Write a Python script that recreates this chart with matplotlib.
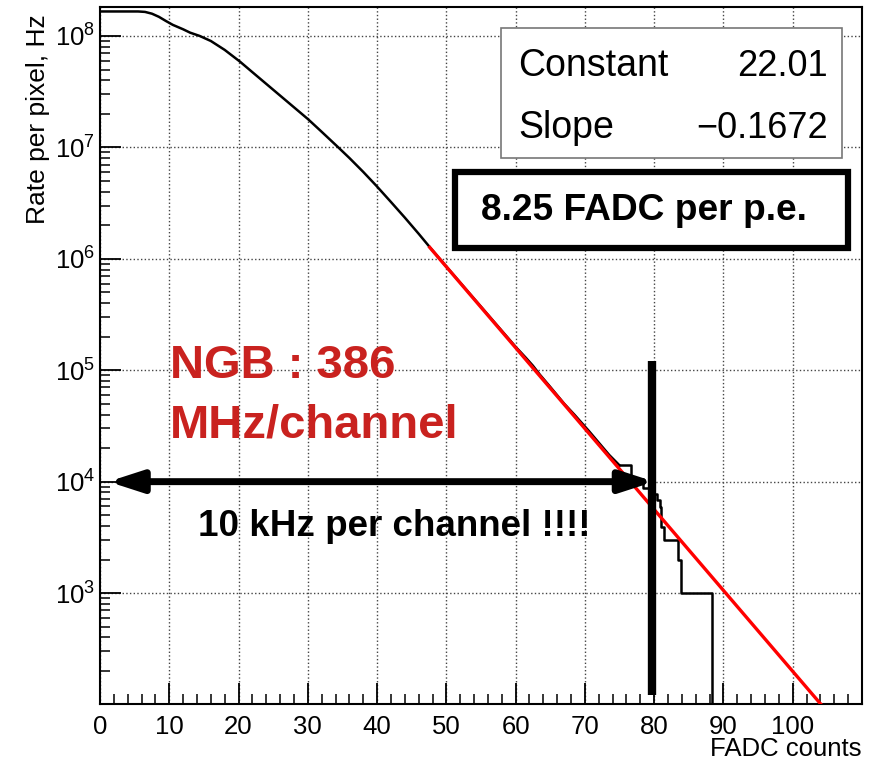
import numpy as np
import matplotlib
matplotlib.use("Agg")
import matplotlib.pyplot as plt
from matplotlib.patches import Rectangle
from matplotlib.ticker import LogLocator, MultipleLocator, NullFormatter

plt.rcParams.update({"font.family": ["Liberation Sans", "DejaVu Sans"], "font.size": 18,
                     "axes.linewidth": 1.5})

# rate curve (FADC counts, log10 rate in Hz)
curve_x = [0, 5.5, 6.5, 7.5, 8.5, 9.5, 10.5, 12, 13, 14.4, 16, 18, 20.2, 22, 24, 26, 28, 30, 32, 34.4,
           36, 38, 39.9, 42, 44, 46, 47.6, 50, 55, 60, 61.5, 62.5, 63.5, 65, 67, 68.5, 69.5, 70.5, 72,
           73.5, 75.0]
curve_log = [8.22, 8.22, 8.216, 8.200, 8.172, 8.135, 8.10, 8.06, 8.03, 8.00, 7.955, 7.875, 7.77, 7.675,
             7.57, 7.465, 7.36, 7.255, 7.14, 7.00, 6.905, 6.78, 6.655, 6.51, 6.37, 6.225, 6.105, 5.93,
             5.57, 5.21, 5.11, 5.04, 4.96, 4.85, 4.70, 4.60, 4.53, 4.46, 4.35, 4.24, 4.146]
# low-statistics tail (histogram steps)
tail_edges = [75.0, 76.7, 78.4, 79.6, 80.4, 80.8, 81.0, 81.4, 83.4, 83.9, 88.3]
tail_rate = [14000, 10500, 8800, 7800, 6800, 5900, 3900, 3000, 2000, 1000, 0]

# exponential fit
fit_const = 22.01
fit_slope = -0.1672
fit_range = [47.6, 110]

cut_x = 79.7
cut_range = [122, 1.21e5]
arrow_from, arrow_to, arrow_rate = 1.2, 80.0, 1e4

fig = plt.figure(figsize=(8.7, 7.66), dpi=100)
ax = fig.add_axes([100 / 870, 1 - 704 / 766, 762 / 870, 697 / 766])
ax.set_yscale("log")
ax.set_xlim(0, 110)
ax.set_ylim(101, 1.82e8)

ax.plot(curve_x, 10 ** np.array(curve_log), color="black", lw=1.8, zorder=3)
ax.plot(tail_edges, tail_rate, color="black", lw=1.8, drawstyle="steps-post", zorder=3)
fx = np.array(fit_range)
ax.plot(fx, np.exp(fit_const + fit_slope * fx), color="#ff0000", lw=2.4, zorder=4)

ax.plot([cut_x, cut_x], cut_range, color="black", lw=6, solid_capstyle="butt", zorder=5)
ax.annotate("", xy=(arrow_to, arrow_rate), xytext=(arrow_from, arrow_rate),
            arrowprops=dict(arrowstyle="<|-|>,head_length=1.05,head_width=0.34", lw=5, color="black",
                            mutation_scale=19, shrinkA=0, shrinkB=0), zorder=6)

# ROOT-like axes
ax.set_xticks(np.arange(0, 101, 10))
ax.xaxis.set_minor_locator(MultipleLocator(2))
ax.yaxis.set_major_locator(LogLocator(base=10, numticks=12))
ax.yaxis.set_minor_locator(LogLocator(base=10, subs=np.arange(2, 10), numticks=12))
ax.yaxis.set_minor_formatter(NullFormatter())
ax.tick_params(which="both", direction="in", top=False, right=False, labelsize=18.5)
ax.tick_params(which="major", length=15, width=1.3)
ax.tick_params(which="minor", length=7.5, width=1.1)
ax.tick_params(axis="x", pad=8)
ax.grid(True, which="major", ls=":", lw=1.0, color="#444444")

ax.set_ylabel("Rate per pixel, Hz", loc="top", fontsize=19)
ax.yaxis.set_label_coords(-0.066, 0.99)
ax.set_xlabel("FADC counts", loc="right", fontsize=18.5)
ax.xaxis.set_label_coords(1.0, -0.047)

# fit statistics box
ax.add_patch(Rectangle((0.526, 0.783), 0.448, 0.187, transform=ax.transAxes, facecolor="white",
                       edgecolor="#777777", lw=1.2, zorder=7))
ax.text(0.549, 0.901, "Constant", transform=ax.transAxes, fontsize=27, va="baseline", zorder=8)
ax.text(0.955, 0.901, f"{fit_const:.2f}", transform=ax.transAxes, fontsize=26, ha="right",
        va="baseline", zorder=8)
ax.text(0.549, 0.812, "Slope", transform=ax.transAxes, fontsize=27, va="baseline", zorder=8)
ax.text(0.955, 0.812, f"\u2212{abs(fit_slope):.4f}", transform=ax.transAxes, fontsize=26, ha="right",
        va="baseline", zorder=8)

# annotations
ax.add_patch(Rectangle((0.466, 0.654), 0.516, 0.109, transform=ax.transAxes, facecolor="white",
                       edgecolor="black", lw=4.5, zorder=7))
ax.text(0.500, 0.7085, "8.25 FADC per p.e.", transform=ax.transAxes, fontsize=26.7, fontweight="bold",
        va="center", zorder=8)
ax.text(0.0919, 0.468, "NGB : 386", transform=ax.transAxes, fontsize=34, fontweight="bold",
        color="#c9221f", va="baseline", zorder=8)
ax.text(0.0919, 0.383, "MHz/channel", transform=ax.transAxes, fontsize=34, fontweight="bold",
        color="#c9221f", va="baseline", zorder=8)
ax.text(0.129, 0.254, "10 kHz per channel !!!!", transform=ax.transAxes, fontsize=26.5,
        fontweight="bold", va="center", zorder=8)

fig.savefig("out.png", dpi=100)
